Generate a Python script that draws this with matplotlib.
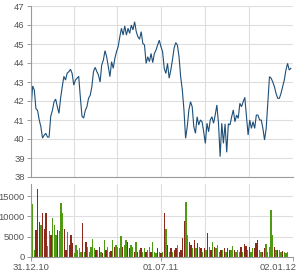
import numpy as np
import pandas as pd
import matplotlib
matplotlib.use("Agg")
import matplotlib.pyplot as plt
import matplotlib.dates as mdates
from matplotlib.transforms import ScaledTranslation

plt.rcParams["font.family"] = ["Liberation Sans", "DejaVu Sans"]

# ---------------- data ----------------
start_date = "2010-12-31"
end_date = "2011-12-30"
axis_start = "2010-12-31"
axis_end = "2012-01-02"

price = [
    41.53, 42.79, 42.58, 41.6, 41.5, 41.0, 40.65, 40.05, 40.2, 40.3, 40.1, 40.1, 41.2, 41.5, 41.95,
    42.1, 41.7, 41.35, 42.15, 42.75, 43.3, 43.1, 43.47, 43.54, 43.67, 43.45, 42.84, 43.1, 43.2, 43.3,
    42.2, 41.2, 41.1, 41.5, 41.7, 42.15, 42.3, 42.75,
    43.55, 43.77, 43.55, 43.37, 43.0, 43.9, 44.16, 44.65, 44.33, 43.8, 43.28, 44.07, 43.72, 44.25,
    44.6, 44.86, 45.38, 45.83, 45.47, 45.95, 45.47, 45.83, 45.56, 46.0, 45.74, 46.17, 45.65, 45.38,
    45.25, 45.65, 45.03, 44.95, 43.98, 44.33, 44.07, 44.5, 44.02, 44.5,
    44.68, 44.95, 45.2, 44.86, 44.6, 43.72, 43.45, 43.98, 43.2, 43.63, 44.16, 44.78, 45.07, 44.95,
    44.33, 43.28, 42.58, 41.53, 40.04, 40.65, 41.53, 41.96, 41.7, 40.65, 40.3, 41.17, 40.74, 41.0,
    40.91, 40.38, 39.77, 40.83, 40.38, 41.0, 41.17, 40.83, 41.26, 41.79, 40.83, 39.07, 40.83, 39.77,
    40.8, 39.3, 40.8,
    40.74, 41.17, 41.53, 40.91, 41.26, 41.09, 41.88, 41.7, 41.96, 42.19, 41.17, 40.21, 41.0, 40.56,
    40.91, 40.56, 41.26, 41.26, 41.0, 41.0, 40.56, 39.95, 40.56, 41.96, 43.28, 43.2, 43.0, 42.75,
    42.4, 42.14, 42.14, 42.4, 42.75, 43.1, 43.63, 43.98, 43.63, 43.72,
]

volume = [
    2500, 13000, 1700, 6600, 16700, 8700, 8000, 10750, 7000, 10750,
    2800, 6300, 5500, 9600, 8000, 5400, 6600, 6300, 13350, 10750,
    7000, 1700, 6200, 3000, 5500, 3500, 900, 3000, 1700, 2100,
    1300, 8300, 1300, 3800, 2500, 1300, 2500, 4400, 2100, 1700,
    1700, 2500, 1300, 900, 4200, 1700, 2500, 1300, 1500, 4200,
    2500, 2900, 2500, 2100, 5200, 2500, 2900, 4200, 3800, 2100,
    2900, 2500, 1300, 3800, 1300, 1700, 2100, 1300, 2100, 1300,
    1700, 2500, 1300, 3800, 1300, 900, 2100, 1300, 900, 1300,
    10750, 7000, 2900, 1300, 2100, 1300, 1700, 2100, 2900, 1300,
    1700, 4600, 8800, 13600, 5400, 3800, 2900, 2100, 4200, 2100,
    3400, 2500, 2100, 1300, 2100, 1700, 5800, 2500, 1700, 3800,
    2500, 2100, 2900, 1300, 1700, 1700, 2100, 1300, 2100, 1700,
    1700, 2700, 1700, 1300, 1700, 1300, 2500, 1300, 3100, 2700,
    1700, 2500, 1300, 2100, 2100, 3400, 4200, 1700, 1300, 1300,
    2100, 3200, 1300, 2500, 11560, 5400, 2500, 1700, 1700, 1700,
    1300, 1500, 1300, 900, 1300, 1300, 2100,
]

volume_dir = list(
    "rggrrrgrrrggrgggrgggrrgrrrgggggrgrgggggr"
    "grgrgrggrgrggggrggrrggrgrgrggrggrgggrgrg"
    "rgrgrgrrgrrrrggrrgrgrgrgrgrgrgrgggrgrgrr"
    "ggrgggrgrrgrggrrrggrrgggggrgrggrggg"
)

tick_dates = ["2010-12-31", "2011-07-01", "2012-01-02"]
tick_labels = ["31.12.10", "01.07.11", "02.01.12"]
grid_dates = ["2011-03-01", "2011-05-01", "2011-07-01", "2011-09-01", "2011-11-01"]
price_ticks = list(range(38, 48))
volume_ticks = [0, 5000, 10000, 15000]
volume_labels = ["0", "5000", "10000", "15000"]

# ---------------- figure ----------------
W, H = 299, 280
dpi = 100
fig = plt.figure(figsize=(W / dpi, H / dpi), dpi=dpi, facecolor="white")

L = 31 / W
R = 293 / W
ax1 = fig.add_axes([L, 1 - 177 / H, R - L, (177 - 6) / H])
ax2 = fig.add_axes([L, 1 - 257 / H, R - L, (257 - 184) / H])

t0 = pd.Timestamp(start_date)
t1 = pd.Timestamp(end_date)
price_x = pd.to_datetime(np.linspace(t0.value, t1.value, len(price)))
vol_x = pd.to_datetime(np.linspace(t0.value, t1.value, len(volume)))

line_color = "#1d4f78"
green = "#4f9a12"
red = "#8a2a1c"
grid_c = "#dedede"
spine_c = "#9a9a9a"
text_c = "#555555"
fs = 6.8

ax1.plot(price_x, price, color=line_color, lw=0.8, solid_joinstyle="miter")

n = min(len(volume), len(volume_dir))
cols = [green if d == "g" else red for d in volume_dir[:n]]
bar_w = (t1 - t0).days / len(volume) * 0.8
ax2.bar(mdates.date2num(vol_x[:n]), volume[:n], width=bar_w, color=cols, linewidth=0, align="center")

xmin = mdates.date2num(pd.Timestamp(axis_start))
xmax = mdates.date2num(pd.Timestamp(axis_end))
gd = [mdates.date2num(pd.Timestamp(d)) for d in grid_dates]

for ax in (ax1, ax2):
    ax.set_xlim(xmin, xmax)
    ax.set_facecolor("white")
    for s in ("top", "right"):
        ax.spines[s].set_visible(False)
    ax.spines["left"].set_color(spine_c)
    ax.spines["bottom"].set_color(spine_c)
    ax.spines["left"].set_linewidth(0.8)
    ax.spines["bottom"].set_linewidth(0.8)
    for g in gd:
        ax.axvline(g, color=grid_c, lw=0.8, zorder=0)
    ax.set_axisbelow(True)
    ax.yaxis.grid(True, color=grid_c, lw=0.8)
    ax.tick_params(axis="y", length=3, width=0.7, color=spine_c, labelsize=fs,
                   labelcolor=text_c, pad=1.5)

ax1.set_ylim(38, 47)
ax1.set_yticks(price_ticks)
ax1.set_xticks([])

ax2.set_ylim(0, 18000)
ax2.set_yticks(volume_ticks)
ax2.set_yticklabels(volume_labels)
ax2.set_xticks([mdates.date2num(pd.Timestamp(d)) for d in tick_dates])
ax2.set_xticklabels(tick_labels)
ax2.tick_params(axis="x", length=3, width=0.7, color=spine_c, labelsize=fs,
                labelcolor=text_c, pad=1.5)

# keep last label inside the figure
lbls = ax2.get_xticklabels()
lbls[-1].set_horizontalalignment("right")
lbls[-1].set_transform(lbls[-1].get_transform() + ScaledTranslation(4 / dpi, 0, fig.dpi_scale_trans))

fig.savefig("out.png", dpi=dpi, facecolor="white")
